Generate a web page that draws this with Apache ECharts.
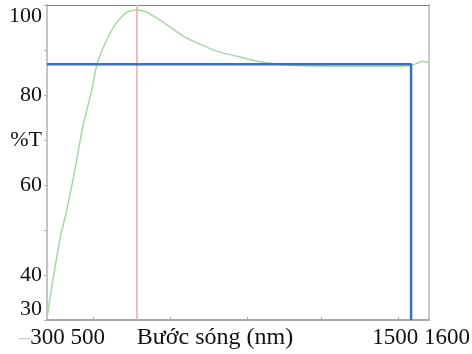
<!DOCTYPE html>
<html>
<head>
<meta charset="utf-8">
<script src="https://cdn.jsdelivr.net/npm/echarts@6/dist/echarts.min.js"></script>
<style>
  html, body { margin: 0; padding: 0; background: #fff; }
  #chart { width: 472px; height: 354px; }
</style>
</head>
<body>
<div id="chart"></div>
<script>
// transmission curve (wavelength nm, %T)
const wavelength = [300, 320, 348, 354, 375, 395, 422, 453, 470, 504, 538, 572, 603, 640, 678, 695, 763, 821, 879, 947, 1015, 1069, 1127, 1263, 1399, 1501, 1539, 1562, 1580, 1593, 1600]
const transmission = [30.4, 38.9, 49.4, 50.7, 56.8, 63.4, 73.0, 81.3, 86.8, 92.4, 96.2, 98.4, 98.9, 98.4, 96.9, 96.2, 93.1, 91.3, 89.7, 88.6, 87.5, 87.0, 86.6, 86.4, 86.4, 86.4, 86.6, 87.1, 87.5, 87.3, 87.3]

// red marker at the peak, blue guide (level + cut-off)
const peakLine = [[606, 30], [606, 100]]
const guideLine = [[300, 86.85], [1539, 86.85], [1539, 30]]

// axis text
const yTickValues = [30, 40, 50, 60, 70, 80, 90, 100]
const yTickLabels = ['30', '40', '', '60', '%T', '80', '', '100']
const xTickValues = [456, 718, 980, 1235, 1494]
const xLabelValues = [351, 1573]
const xLabelTexts = ['{g|–}300 500', '1500 1600']
const xName = 'Bước sóng (nm)'

const font = 'Liberation Serif'

const chart = echarts.init(document.getElementById('chart'))

const option = {
  animation: false,
  grid: { left: 47, right: 43, top: 5, bottom: 34, containLabel: false, outerBoundsMode: 'none' },
  xAxis: [
    {
      type: 'value',
      min: 300,
      max: 1600,
      position: 'bottom',
      splitLine: { show: false },
      axisLine: { lineStyle: { color: '#aaaaaa', width: 2 } },
      axisTick: {
        customValues: xTickValues,
        inside: true,
        length: 3,
        lineStyle: { color: '#aaaaaa' },
      },
      axisLabel: {
        customValues: xLabelValues,
        formatter: function (v) {
          const i = xLabelValues.indexOf(v)
          return i >= 0 ? xLabelTexts[i] : ''
        },
        fontFamily: font,
        fontSize: 23,
        color: '#111',
        margin: 6,
        hideOverlap: false,
        rich: {
          g: { color: '#c8c8c8', fontFamily: font, fontSize: 23 },
        },
      },
      name: xName,
      nameLocation: 'middle',
      nameGap: 6,
      nameMoveOverlap: false,
      nameTextStyle: {
        fontFamily: font,
        fontSize: 24,
        color: '#111',
        verticalAlign: 'top',
        padding: [0, 46, 0, 0],
      },
    },
    {
      // top border
      type: 'value',
      position: 'top',
      axisLine: { lineStyle: { color: '#808080', width: 1 } },
      axisTick: { show: false },
      axisLabel: { show: false },
      splitLine: { show: false },
    },
  ],
  yAxis: [
    {
      type: 'value',
      min: 30,
      max: 100,
      interval: 10,
      splitLine: { show: false },
      axisLine: { show: true, lineStyle: { color: '#c4c4c4', width: 2 } },
      axisTick: { show: true, length: 3, lineStyle: { color: '#a8b0c8' } },
      axisLabel: {
        formatter: function (v) {
          const i = yTickValues.indexOf(v)
          return i >= 0 ? yTickLabels[i] : ''
        },
        fontFamily: font,
        fontSize: 22,
        color: '#111',
        margin: 5,
        verticalAlignMaxLabel: 'top',
        verticalAlignMinLabel: 'bottom',
      },
    },
    {
      // right border
      type: 'value',
      position: 'right',
      axisLine: { show: true, lineStyle: { color: '#c8c8c8', width: 2 } },
      axisTick: { show: false },
      axisLabel: { show: false },
      splitLine: { show: false },
    },
  ],
  series: [
    {
      name: '%T',
      type: 'line',
      data: wavelength.map((w, i) => [w, transmission[i]]),
      smooth: 0.2,
      showSymbol: false,
      lineStyle: { color: '#a6d8a6', width: 1.5 },
      z: 2,
    },
    {
      name: 'peak',
      type: 'line',
      data: peakLine,
      showSymbol: false,
      lineStyle: { color: '#f6a6a6', width: 1.5 },
      z: 3,
    },
    {
      name: 'guide',
      type: 'line',
      data: guideLine,
      showSymbol: false,
      lineStyle: { color: '#3b6fb8', width: 2.5 },
      z: 4,
    },
  ],
}

chart.setOption(option)
</script>
</body>
</html>
